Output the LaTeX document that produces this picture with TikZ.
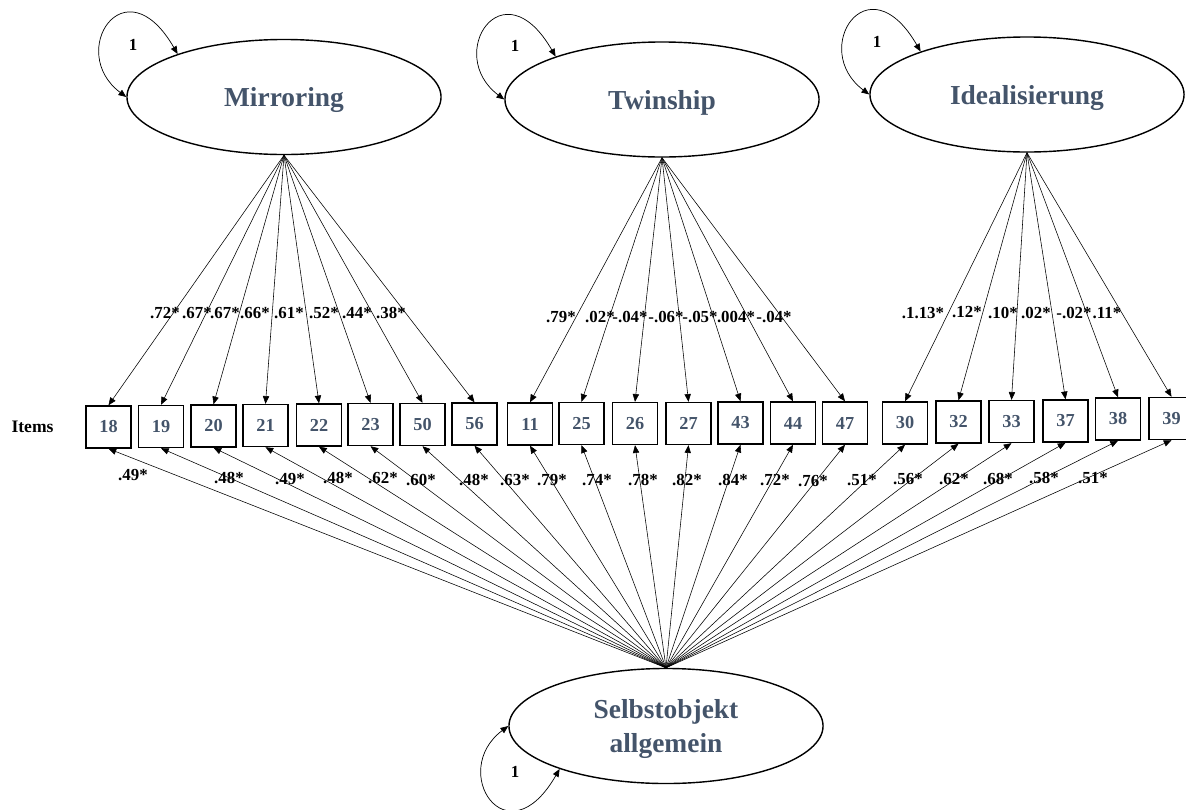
\documentclass[tikz,border=0pt]{standalone}
\usepackage{fontspec}
\setmainfont{Liberation Serif}
\usetikzlibrary{shapes.geometric,arrows.meta}
\definecolor{factorslate}{RGB}{68, 84, 106}

\begin{document}
\begin{tikzpicture}[x=0.025cm, y=-0.025cm,
    factor/.style={ellipse, draw, line width=1pt, minimum width=7.85cm, minimum height=2.875cm, align=center, text depth=0pt, text=factorslate, font=\fontsize{19.5}{23.5}\selectfont\bfseries},
    itembox/.style={rectangle, draw, line width=1pt, minimum width=1.125cm, minimum height=1.05cm, text=factorslate, font=\fontsize{13}{15}\selectfont\bfseries},
    coef/.style={inner sep=0pt, font=\fontsize{12}{14}\selectfont\bfseries},
    arrow/.style={->, >={Triangle[length=5.5pt, width=4.5pt]}, line width=0.4pt},
    selfloop/.style={<->, >={Triangle[length=5.5pt, width=4.5pt]}, line width=0.5pt}
]
    \useasboundingbox (0, 0) rectangle (1186, 810);

    % latent factors
    \node[factor] (mirror) at (284, 97) {Mirroring};
    \node[factor] (twin) at (662, 99.5) {Twinship};
    \node[factor] (ideal) at (1027, 94.5) {Idealisierung};
    \node[factor] (selbst) at (666, 726) {Selbstobjekt\\allgemein};

    % variances
    \draw[selfloop] (mirror.west) .. controls +(-60, -45) and +(-53, -92) .. (mirror.158);
    \draw[selfloop] (twin.west) .. controls +(-60, -45) and +(-53, -92) .. (twin.158);
    \draw[selfloop] (ideal.west) .. controls +(-60, -45) and +(-53, -92) .. (ideal.158);
    \draw[selfloop] (selbst.west) .. controls +(-60, 45) and +(-53, 92) .. (selbst.202);
    \node[coef] (vm) at (133, 45) {1};
    \node[coef] (vt) at (515, 46) {1};
    \node[coef] (vi) at (877, 42) {1};
    \node[coef] (vs) at (515, 772) {1};

    % items
    \node[coef, font=\fontsize{12.5}{14}\selectfont\bfseries] (items) at (32.5, 427) {Items};
    \node[itembox] (i18) at (108.5, 427) {18};
    \node[itembox] (i19) at (161, 426.5) {19};
    \node[itembox] (i20) at (213.5, 426) {20};
    \node[itembox] (i21) at (265.5, 425.5) {21};
    \node[itembox] (i22) at (319, 425) {22};
    \node[itembox] (i23) at (370.5, 424.5) {23};
    \node[itembox] (i50) at (422.5, 424.5) {50};
    \node[itembox] (i56) at (474.5, 424) {56};
    \node[itembox] (i11) at (530, 424) {11};
    \node[itembox] (i25) at (581.5, 423.5) {25};
    \node[itembox] (i26) at (635, 423.5) {26};
    \node[itembox] (i27) at (688.5, 423.5) {27};
    \node[itembox] (i43) at (740.5, 423) {43};
    \node[itembox] (i44) at (793, 423) {44};
    \node[itembox] (i47) at (845, 423) {47};
    \node[itembox] (i30) at (905, 423) {30};
    \node[itembox] (i32) at (958.5, 422) {32};
    \node[itembox] (i33) at (1011.5, 421.5) {33};
    \node[itembox] (i37) at (1065.5, 421) {37};
    \node[itembox] (i38) at (1118, 419) {38};
    \node[itembox] (i39) at (1171.5, 418.5) {39};

    % loadings of the three factors
    \draw[arrow] (mirror.south) -- (i18.north);
    \draw[arrow] (mirror.south) -- (i19.north);
    \draw[arrow] (mirror.south) -- (i20.north);
    \draw[arrow] (mirror.south) -- (i21.north);
    \draw[arrow] (mirror.south) -- (i22.north);
    \draw[arrow] (mirror.south) -- (i23.north);
    \draw[arrow] (mirror.south) -- (i50.north);
    \draw[arrow] (mirror.south) -- (i56.north);
    \draw[arrow] (twin.south) -- (i11.north);
    \draw[arrow] (twin.south) -- (i25.north);
    \draw[arrow] (twin.south) -- (i26.north);
    \draw[arrow] (twin.south) -- (i27.north);
    \draw[arrow] (twin.south) -- (i43.north);
    \draw[arrow] (twin.south) -- (i44.north);
    \draw[arrow] (twin.south) -- (i47.north);
    \draw[arrow] (ideal.south) -- (i30.north);
    \draw[arrow] (ideal.south) -- (i32.north);
    \draw[arrow] (ideal.south) -- (i33.north);
    \draw[arrow] (ideal.south) -- (i37.north);
    \draw[arrow] (ideal.south) -- (i38.north);
    \draw[arrow] (ideal.south) -- (i39.north);

    \node[coef] (lm18) at (165, 313) {.72*};
    \node[coef] (lm19) at (197, 313) {.67*};
    \node[coef] (lm20) at (225, 313) {.67*};
    \node[coef] (lm21) at (255, 313) {.66*};
    \node[coef] (lm22) at (289, 313) {.61*};
    \node[coef] (lm23) at (324, 313) {.52*};
    \node[coef] (lm50) at (357, 313) {.44*};
    \node[coef] (lm56) at (391, 313) {.38*};
    \node[coef] (lt11) at (561, 317) {.79*};
    \node[coef] (lt25) at (600, 317) {.02*};
    \node[coef] (lt26) at (630, 317) {-.04*};
    \node[coef] (lt27) at (666, 317) {-.06*};
    \node[coef] (lt43) at (700, 317) {-.05*};
    \node[coef] (lt44) at (736, 317) {.004*};
    \node[coef] (lt47) at (774, 317) {-.04*};
    \node[coef] (li30) at (923, 313) {.1.13*};
    \node[coef] (li32) at (967, 312) {.12*};
    \node[coef] (li33) at (1003, 313) {.10*};
    \node[coef] (li37) at (1036, 313) {.02*};
    \node[coef] (li38) at (1074, 313) {-.02*};
    \node[coef] (li39) at (1107, 313) {.11*};

    % general factor
    \draw[arrow] (selbst.north) -- (i18.south);
    \draw[arrow] (selbst.north) -- (i19.south);
    \draw[arrow] (selbst.north) -- (i20.south);
    \draw[arrow] (selbst.north) -- (i21.south);
    \draw[arrow] (selbst.north) -- (i22.south);
    \draw[arrow] (selbst.north) -- (i23.south);
    \draw[arrow] (selbst.north) -- (i50.south);
    \draw[arrow] (selbst.north) -- (i56.south);
    \draw[arrow] (selbst.north) -- (i11.south);
    \draw[arrow] (selbst.north) -- (i25.south);
    \draw[arrow] (selbst.north) -- (i26.south);
    \draw[arrow] (selbst.north) -- (i27.south);
    \draw[arrow] (selbst.north) -- (i43.south);
    \draw[arrow] (selbst.north) -- (i44.south);
    \draw[arrow] (selbst.north) -- (i47.south);
    \draw[arrow] (selbst.north) -- (i30.south);
    \draw[arrow] (selbst.north) -- (i32.south);
    \draw[arrow] (selbst.north) -- (i33.south);
    \draw[arrow] (selbst.north) -- (i37.south);
    \draw[arrow] (selbst.north) -- (i38.south);
    \draw[arrow] (selbst.north) -- (i39.south);

    \node[coef] (ls18) at (133, 475) {.49*};
    \node[coef] (ls19) at (229, 478) {.48*};
    \node[coef] (ls20) at (290, 479) {.49*};
    \node[coef] (ls21) at (338, 478) {.48*};
    \node[coef] (ls22) at (383, 478) {.62*};
    \node[coef] (ls23) at (421, 480) {.60*};
    \node[coef] (ls50) at (474, 480) {.48*};
    \node[coef] (ls56) at (515, 480) {.63*};
    \node[coef] (ls11) at (552, 480) {.79*};
    \node[coef] (ls25) at (597, 480) {.74*};
    \node[coef] (ls26) at (643, 480) {.78*};
    \node[coef] (ls27) at (687, 480) {.82*};
    \node[coef] (ls43) at (733, 480) {.84*};
    \node[coef] (ls44) at (775, 480) {.72*};
    \node[coef] (ls47) at (813, 481) {.76*};
    \node[coef] (ls30) at (862, 480) {.51*};
    \node[coef] (ls32) at (908, 479) {.56*};
    \node[coef] (ls33) at (954, 479) {.62*};
    \node[coef] (ls37) at (998, 479) {.68*};
    \node[coef] (ls38) at (1044, 478) {.58*};
    \node[coef] (ls39) at (1093, 478) {.51*};
\end{tikzpicture}
\end{document}
